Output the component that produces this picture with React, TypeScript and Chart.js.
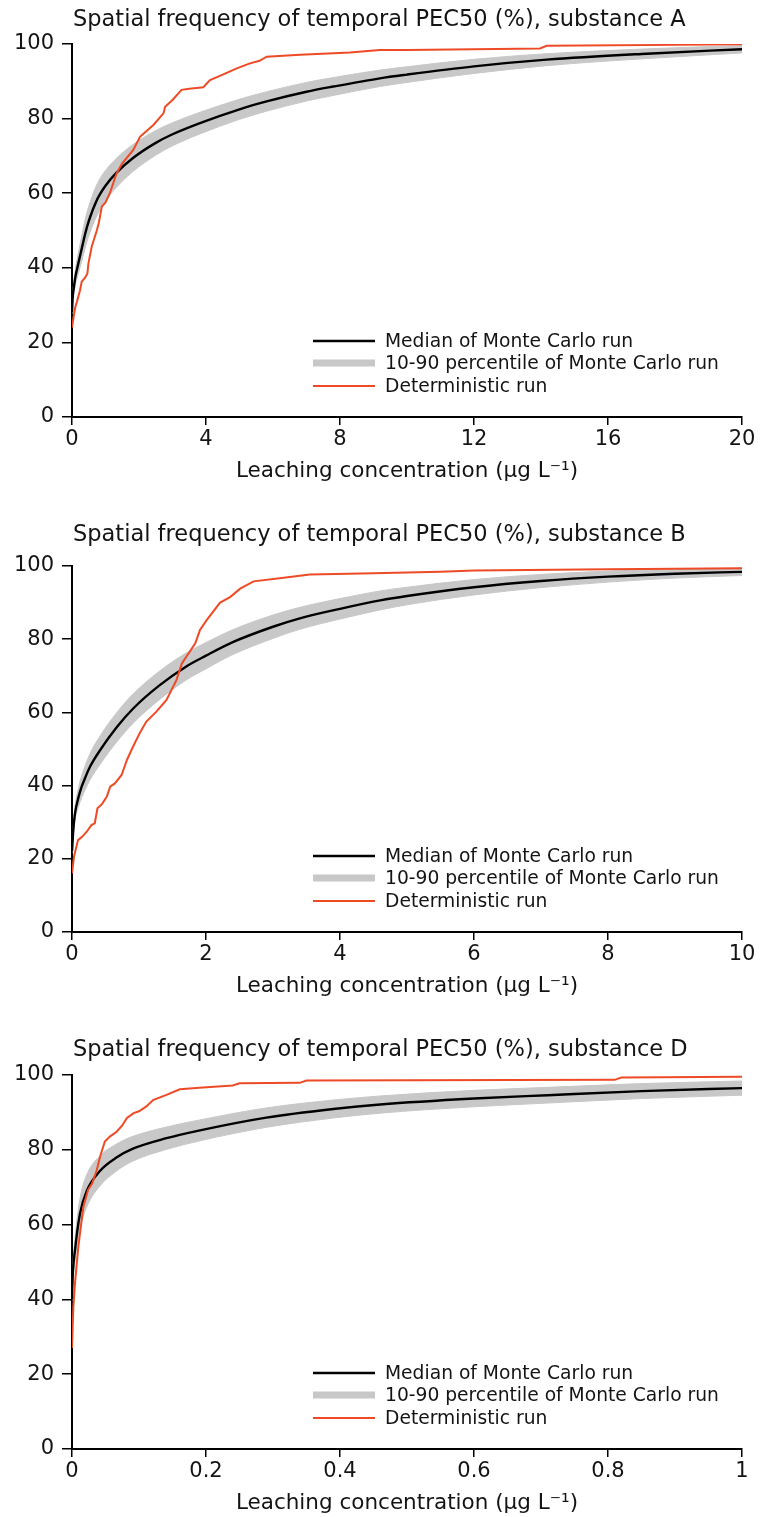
import React, { useEffect, useRef } from "react";
import { Chart, registerables } from "chart.js";

Chart.register(...registerables);

// ---------------- DATA ----------------
const TITLE_A = "Spatial frequency of temporal PEC50 (%), substance A";
const TITLE_B = "Spatial frequency of temporal PEC50 (%), substance B";
const TITLE_D = "Spatial frequency of temporal PEC50 (%), substance D";
const X_TITLE = "Leaching concentration (\u00b5g L\u207b\u00b9)";
const LEGEND_LABELS = [
  "Median of Monte Carlo run",
  "10-90 percentile of Monte Carlo run",
  "Deterministic run",
];

const Y_TICKS = [0, 20, 40, 60, 80, 100];
const Y_TICK_LABELS = ["0", "20", "40", "60", "80", "100"];

const X_TICKS_A = [0, 4, 8, 12, 16, 20];
const X_TICK_LABELS_A = ["0", "4", "8", "12", "16", "20"];
const X_TICKS_B = [0, 2, 4, 6, 8, 10];
const X_TICK_LABELS_B = ["0", "2", "4", "6", "8", "10"];
const X_TICKS_D = [0, 0.2, 0.4, 0.6, 0.8, 1];
const X_TICK_LABELS_D = ["0", "0.2", "0.4", "0.6", "0.8", "1"];

// Substance A – Monte Carlo
const MC_X_A = [0, 0.02, 0.06, 0.1, 0.19, 0.3, 0.39, 0.5, 0.75, 1, 1.33, 1.83, 2.5, 3, 3.82, 5, 5.81, 7, 7.8, 9.19, 10, 12, 14.17, 17.15, 20];
const MEDIAN_A = [28, 32, 35, 37.5, 41.2, 45.5, 49, 52.5, 58.3, 62, 65.5, 69.5, 73.5, 75.8, 78.8, 82.5, 84.6, 87.2, 88.6, 90.8, 91.8, 94, 95.8, 97.4, 98.6];
const P10_A = [27.7, 31.2, 33.5, 35.5, 38.4, 42.1, 45.2, 48.5, 54.1, 57.9, 61.6, 65.9, 70.2, 72.7, 75.9, 79.8, 82, 84.7, 86.2, 88.6, 89.7, 92.1, 94.2, 96.1, 97.6];
const P90_A = [28.3, 32.8, 36.5, 39.5, 44, 48.9, 52.8, 56.5, 62.5, 66.1, 69.4, 73.1, 76.8, 78.9, 81.7, 85.2, 87.2, 89.7, 91, 93, 93.9, 95.9, 97.4, 98.7, 99.6];
// Substance A – deterministic
const DET_X_A = [0, 0.05, 0.1, 0.15, 0.24, 0.29, 0.4, 0.46, 0.49, 0.59, 0.74, 0.8, 0.89, 1.0, 1.13, 1.33, 1.5, 1.83, 2.03, 2.2, 2.43, 2.73, 2.78, 3.0, 3.27, 3.5, 3.92, 4.12, 4.5, 4.9, 5.31, 5.6, 5.81, 6.81, 8.3, 9.19, 10, 13.97, 14.17, 20];
const DET_A = [24, 27, 29.5, 31, 34, 36.3, 37.5, 38.5, 41.2, 45.7, 50, 52, 56.4, 57.5, 60, 65.3, 68, 71.6, 75.1, 76.5, 78.3, 81.4, 83.2, 85, 87.7, 88, 88.4, 90.3, 91.8, 93.4, 94.8, 95.5, 96.6, 97.1, 97.7, 98.4, 98.4, 98.8, 99.5, 99.9];

// Substance B – Monte Carlo
const MC_X_B = [0, 0.02, 0.045, 0.1, 0.144, 0.2, 0.27, 0.42, 0.67, 0.91, 1.3, 1.7, 2, 2.4, 3, 3.4, 4, 4.6, 5, 6, 7, 8, 9, 10];
const MEDIAN_B = [22, 28, 32.4, 37, 39.7, 42.3, 45.2, 49.7, 56, 61, 67.3, 72.5, 75.5, 79.2, 83.4, 85.7, 88.3, 90.6, 91.8, 94.2, 95.9, 97.1, 97.9, 98.4];
const P10_B = [21.7, 27, 30.6, 34.4, 36.7, 39, 41.6, 45.8, 52, 57, 63.4, 68.8, 71.9, 75.8, 80.2, 82.7, 85.5, 88, 89.4, 92.1, 94.1, 95.6, 96.7, 97.4];
const P90_B = [22.3, 29, 34.2, 39.6, 42.7, 45.6, 48.8, 53.6, 60, 65, 71.2, 76.2, 79.1, 82.6, 86.6, 88.7, 91.1, 93.2, 94.2, 96.3, 97.7, 98.6, 99.1, 99.4];
// Substance B – deterministic
const DET_X_B = [0, 0.03, 0.09, 0.15, 0.22, 0.29, 0.34, 0.38, 0.45, 0.52, 0.57, 0.64, 0.74, 0.82, 0.91, 1.01, 1.11, 1.26, 1.41, 1.56, 1.64, 1.84, 1.91, 2.01, 2.21, 2.36, 2.51, 2.71, 3.16, 3.55, 4.5, 5.5, 6, 8, 10];
const DET_B = [16, 20.6, 25.1, 26, 27.4, 29.2, 29.7, 33.8, 35, 37, 39.7, 40.6, 42.9, 47, 50.6, 54.3, 57.5, 60.2, 63.4, 68.9, 73.4, 78.9, 82.5, 85.2, 90, 91.5, 93.8, 95.8, 96.8, 97.7, 98, 98.4, 98.8, 99.1, 99.4];

// Substance D – Monte Carlo
const MC_X_D = [0, 0.001, 0.0045, 0.012, 0.022, 0.042, 0.067, 0.091, 0.141, 0.191, 0.29, 0.39, 0.46, 0.6, 0.71, 0.85, 1];
const MEDIAN_D = [40, 46, 53.2, 63, 69, 74.4, 78, 80.3, 83.1, 85.2, 88.6, 90.9, 92.1, 93.7, 94.6, 95.7, 96.5];
const P10_D = [39.7, 44.5, 50.2, 59, 64.7, 70.4, 74.4, 77, 80.1, 82.4, 86, 88.5, 89.8, 91.5, 92.5, 93.7, 94.6];
const P90_D = [40.3, 47.5, 56.2, 67, 73.3, 78.4, 81.6, 83.6, 86.1, 88, 91.2, 93.3, 94.4, 95.9, 96.7, 97.7, 98.4];
// Substance D – deterministic
const DET_X_D = [0, 0.002, 0.0045, 0.0094, 0.017, 0.024, 0.03, 0.037, 0.042, 0.049, 0.057, 0.067, 0.075, 0.082, 0.092, 0.1, 0.111, 0.121, 0.141, 0.161, 0.19, 0.24, 0.25, 0.34, 0.35, 0.81, 0.82, 1];
const DET_D = [27, 38, 44.4, 54, 64.8, 69.3, 71, 74.6, 78.2, 82.2, 83.6, 84.9, 86.5, 88.5, 89.8, 90.3, 91.6, 93.3, 94.7, 96.2, 96.6, 97.2, 97.8, 97.9, 98.5, 98.7, 99.3, 99.5];

// ---------------- STYLE ----------------
const FONT = '"DejaVu Sans", "Liberation Sans", Arial, sans-serif';
const TEXT = "#141414";
const RED = "#ee4a26";
const GREY = "#c8c8c8";
const BLACK = "#000000";

const pts = (xs: number[], ys: number[]) => xs.map((x, i) => ({ x, y: ys[i] }));

type Cfg = {
  top: number;
  height: number;
  padTop: number;
  titleDy: number;
  title: string;
  xMax: number;
  xTicks: number[];
  xTickLabels: string[];
  mcX: number[];
  median: number[];
  p10: number[];
  p90: number[];
  detX: number[];
  det: number[];
};

const overlayPlugin = {
  id: "overlay",
  afterDraw(chart: any, _args: any, opts: any) {
    const { ctx, chartArea } = chart;
    ctx.save();
    // title
    ctx.fillStyle = TEXT;
    ctx.font = `22.5px ${FONT}`;
    ctx.textAlign = "left";
    ctx.textBaseline = "middle";
    ctx.fillText(opts.title, chartArea.left + 1, chartArea.top + opts.titleDy);
    // legend (inside plot area, lower right)
    const rowsDy = [-76, -54, -31];
    const entries = chart.data.datasets.filter((d: any) => d.legendRow !== undefined);
    entries.forEach((d: any) => {
      const y = chartArea.bottom + rowsDy[d.legendRow];
      ctx.strokeStyle = d.legendColor;
      ctx.lineWidth = d.legendWidth;
      ctx.lineCap = "butt";
      ctx.beginPath();
      ctx.moveTo(chartArea.left + 241, y);
      ctx.lineTo(chartArea.left + 303, y);
      ctx.stroke();
      ctx.fillStyle = TEXT;
      ctx.font = `18.7px ${FONT}`;
      ctx.fillText(LEGEND_LABELS[d.legendRow], chartArea.left + 313, y + 1);
    });
    ctx.restore();
  },
};

function LeachChart({ cfg }: { cfg: Cfg }) {
  const ref = useRef<HTMLCanvasElement | null>(null);
  useEffect(() => {
    if (!ref.current) return;
    const chart = new Chart(ref.current, {
      type: "line",
      data: {
        datasets: [
          {
            label: "P10",
            data: pts(cfg.mcX, cfg.p10),
            borderColor: GREY,
            borderWidth: 1,
            pointRadius: 0,
            fill: false,
            cubicInterpolationMode: "monotone",
            order: 4,
          },
          {
            label: LEGEND_LABELS[1],
            data: pts(cfg.mcX, cfg.p90),
            borderColor: GREY,
            backgroundColor: GREY,
            borderWidth: 1,
            pointRadius: 0,
            fill: "-1",
            cubicInterpolationMode: "monotone",
            order: 3,
            legendRow: 1,
            legendColor: GREY,
            legendWidth: 7,
          } as any,
          {
            label: LEGEND_LABELS[0],
            data: pts(cfg.mcX, cfg.median),
            borderColor: BLACK,
            borderWidth: 2.4,
            pointRadius: 0,
            fill: false,
            cubicInterpolationMode: "monotone",
            order: 2,
            legendRow: 0,
            legendColor: BLACK,
            legendWidth: 2.4,
          } as any,
          {
            label: LEGEND_LABELS[2],
            data: pts(cfg.detX, cfg.det),
            borderColor: RED,
            borderWidth: 2,
            pointRadius: 0,
            fill: false,
            tension: 0,
            order: 1,
            legendRow: 2,
            legendColor: RED,
            legendWidth: 2,
          } as any,
        ],
      },
      options: {
        animation: false,
        responsive: true,
        maintainAspectRatio: false,
        layout: { padding: { top: cfg.padTop, right: 18, left: 0, bottom: 0 } },
        plugins: {
          legend: { display: false },
          title: { display: false },
          tooltip: { enabled: false },
          overlay: { title: cfg.title, titleDy: cfg.titleDy },
        } as any,
        scales: {
          x: {
            type: "linear",
            min: 0,
            max: cfg.xMax,
            afterFit: (s: any) => {
              s.height = 67;
            },
            afterBuildTicks: (s: any) => {
              s.ticks = cfg.xTicks.map((v) => ({ value: v }));
            },
            ticks: {
              autoSkip: false,
              maxRotation: 0,
              padding: 2,
              color: TEXT,
              font: { family: FONT, size: 21 },
              callback: (_v: any, i: number) => cfg.xTickLabels[i],
            },
            grid: { drawOnChartArea: false, drawTicks: true, tickLength: 8, color: BLACK, lineWidth: 1.5 },
            border: { display: true, color: BLACK, width: 2 },
            title: {
              display: true,
              text: X_TITLE,
              color: TEXT,
              font: { family: FONT, size: 21.5 },
              padding: 0,
            },
          },
          y: {
            type: "linear",
            min: 0,
            max: 100,
            afterFit: (s: any) => {
              s.width = 72;
            },
            afterBuildTicks: (s: any) => {
              s.ticks = Y_TICKS.map((v) => ({ value: v }));
            },
            ticks: {
              padding: 8,
              color: TEXT,
              font: { family: FONT, size: 21 },
              callback: (_v: any, i: number) => Y_TICK_LABELS[i],
            },
            grid: { drawOnChartArea: false, drawTicks: true, tickLength: 10, color: BLACK, lineWidth: 1.5 },
            border: { display: true, color: BLACK, width: 2 },
          },
        },
      },
      plugins: [overlayPlugin as any],
    });
    return () => chart.destroy();
  }, [cfg]);
  return (
    <div style={{ position: "absolute", left: 0, top: cfg.top, width: 760, height: cfg.height }}>
      <canvas ref={ref} />
    </div>
  );
}

const CFG_A: Cfg = {
  top: 0, height: 484, padTop: 44, titleDy: -24, title: TITLE_A,
  xMax: 20, xTicks: X_TICKS_A, xTickLabels: X_TICK_LABELS_A,
  mcX: MC_X_A, median: MEDIAN_A, p10: P10_A, p90: P90_A, detX: DET_X_A, det: DET_A,
};
const CFG_B: Cfg = {
  top: 500, height: 499, padTop: 66, titleDy: -31, title: TITLE_B,
  xMax: 10, xTicks: X_TICKS_B, xTickLabels: X_TICK_LABELS_B,
  mcX: MC_X_B, median: MEDIAN_B, p10: P10_B, p90: P90_B, detX: DET_X_B, det: DET_B,
};
const CFG_D: Cfg = {
  top: 1010, height: 506, padTop: 65, titleDy: -25, title: TITLE_D,
  xMax: 1, xTicks: X_TICKS_D, xTickLabels: X_TICK_LABELS_D,
  mcX: MC_X_D, median: MEDIAN_D, p10: P10_D, p90: P90_D, detX: DET_X_D, det: DET_D,
};

export default function App() {
  return (
    <div style={{ position: "absolute", left: 0, top: 0, width: 760, height: 1517, background: "#fff" }}>
      <LeachChart cfg={CFG_A} />
      <LeachChart cfg={CFG_B} />
      <LeachChart cfg={CFG_D} />
    </div>
  );
}
